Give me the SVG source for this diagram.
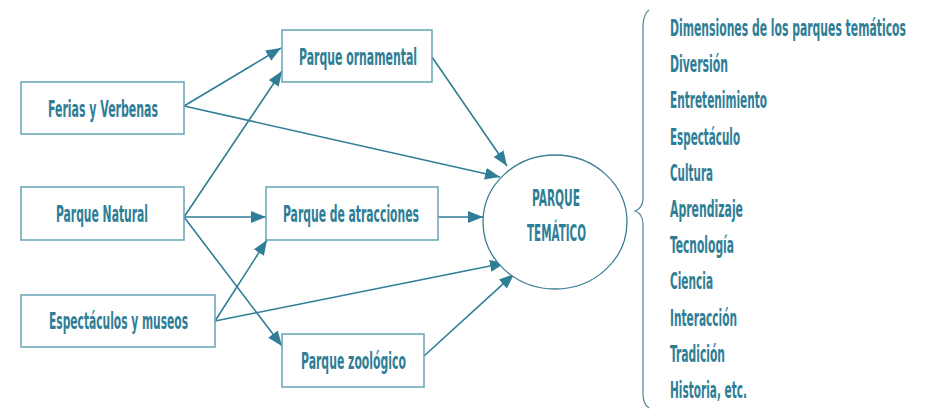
<svg xmlns="http://www.w3.org/2000/svg" width="925" height="411" viewBox="0 0 925 411">
<style>
text{font-family:"DejaVu Sans Condensed","Liberation Sans Narrow","DejaVu Sans",sans-serif;font-size:23px;font-weight:bold;fill:#2f7e96}
.box{fill:#fff;stroke:#6fa9ba;stroke-width:1.6}
.conn line{stroke:#2f7e96;stroke-width:1.6;marker-end:url(#ah)}
</style>
<defs>
<marker id="ah" markerUnits="userSpaceOnUse" markerWidth="16" markerHeight="12" refX="15" refY="6" orient="auto">
<path d="M0,0 L15,6 L0,12 z" fill="#2f7e96"/>
</marker>
</defs>
<rect width="925" height="411" fill="#fff"/>
<g id="connectors" class="conn">
<line x1="184" y1="106" x2="281" y2="48"/>
<line x1="184" y1="217" x2="282" y2="71"/>
<line x1="184" y1="106" x2="500" y2="177"/>
<line x1="432" y1="57" x2="507" y2="166"/>
<line x1="184" y1="217" x2="266" y2="217"/>
<line x1="184" y1="217" x2="282" y2="346"/>
<line x1="215" y1="321" x2="267" y2="240"/>
<line x1="215" y1="321" x2="505" y2="263"/>
<line x1="438" y1="217" x2="483" y2="217"/>
<line x1="424" y1="356" x2="514" y2="274"/>
</g>
<g id="ferias"><rect class="box" x="21" y="82" width="163" height="52"/><text x="48" y="117" textLength="110" lengthAdjust="spacingAndGlyphs">Ferias y Verbenas</text></g>
<g id="natural"><rect class="box" x="21" y="187" width="163" height="53"/><text x="56" y="222" textLength="92" lengthAdjust="spacingAndGlyphs">Parque Natural</text></g>
<g id="espectaculos"><rect class="box" x="21" y="295" width="194" height="52"/><text x="49" y="329" textLength="139" lengthAdjust="spacingAndGlyphs">Espectáculos y museos</text></g>
<g id="ornamental"><rect class="box" x="282" y="30" width="150" height="52"/><text x="299" y="65" textLength="118" lengthAdjust="spacingAndGlyphs">Parque ornamental</text></g>
<g id="atracciones"><rect class="box" x="266" y="187" width="172" height="53"/><text x="283" y="222" textLength="136" lengthAdjust="spacingAndGlyphs">Parque de atracciones</text></g>
<g id="zoologico"><rect class="box" x="282" y="334" width="142" height="53"/><text x="301" y="369" textLength="105" lengthAdjust="spacingAndGlyphs">Parque zoológico</text></g>
<g id="tematico"><ellipse cx="555" cy="222" rx="72" ry="67" fill="#fff" stroke="#3a7f92" stroke-width="1.3"/>
<text x="532" y="206" textLength="48" lengthAdjust="spacingAndGlyphs">PARQUE</text>
<text x="527" y="241" textLength="59" lengthAdjust="spacingAndGlyphs">TEMÁTICO</text></g>
<g id="brace"><path d="M649,10 Q643,14 643,28 L643,198 Q643,208 635,211 Q643,214 643,224 L643,394 Q643,404 649,408" fill="none" stroke="#5a8a99" stroke-width="1.3"/></g>
<g id="dimensiones">
<text transform="translate(670,36) scale(0.55,1)" x="0" y="0" textLength="429" lengthAdjust="spacingAndGlyphs">Dimensiones de los parques temáticos</text>
<text x="670" y="72" textLength="58" lengthAdjust="spacingAndGlyphs">Diversión</text>
<text x="670" y="108" textLength="97" lengthAdjust="spacingAndGlyphs">Entretenimiento</text>
<text x="670" y="145" textLength="70" lengthAdjust="spacingAndGlyphs">Espectáculo</text>
<text x="670" y="181" textLength="43" lengthAdjust="spacingAndGlyphs">Cultura</text>
<text x="670" y="217" textLength="73" lengthAdjust="spacingAndGlyphs">Aprendizaje</text>
<text x="670" y="253" textLength="64" lengthAdjust="spacingAndGlyphs">Tecnología</text>
<text x="670" y="289" textLength="43" lengthAdjust="spacingAndGlyphs">Ciencia</text>
<text x="670" y="326" textLength="67" lengthAdjust="spacingAndGlyphs">Interacción</text>
<text x="670" y="362" textLength="55" lengthAdjust="spacingAndGlyphs">Tradición</text>
<text x="670" y="398" textLength="77" lengthAdjust="spacingAndGlyphs">Historia, etc.</text>
</g>
</svg>
